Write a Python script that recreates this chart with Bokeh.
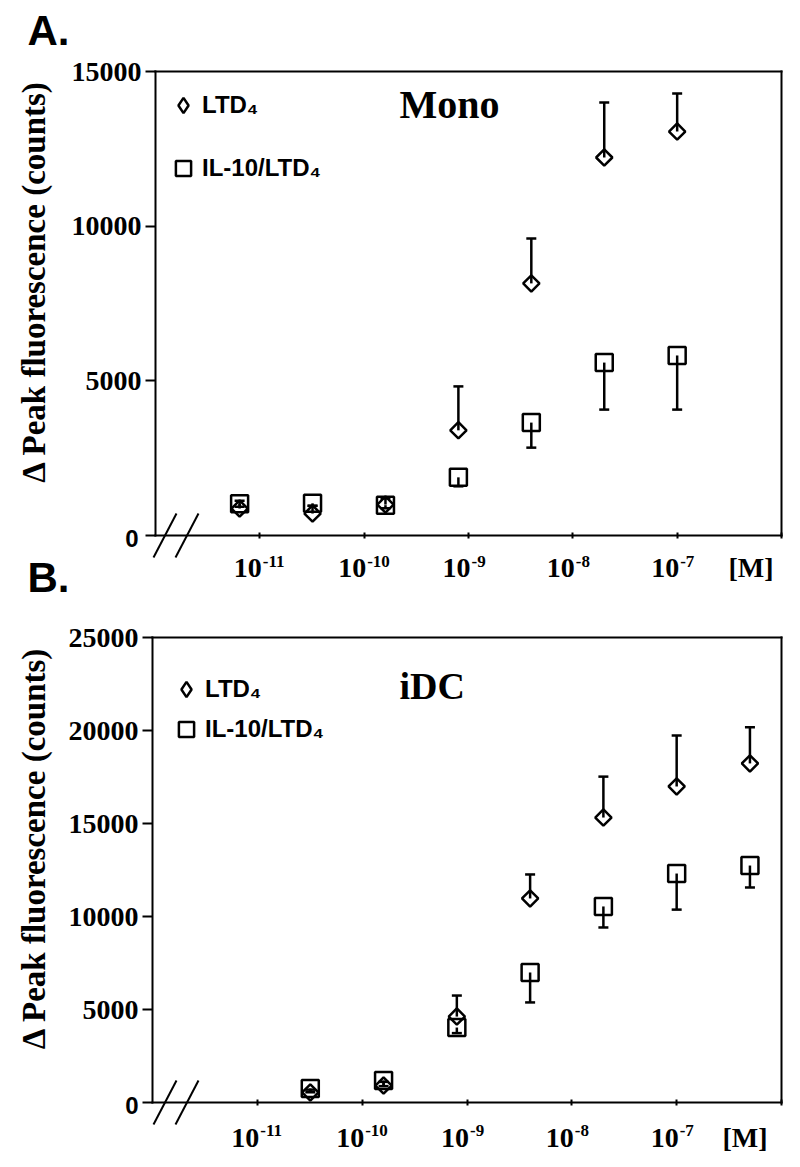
import numpy as np
from bokeh.plotting import figure
from bokeh.models import (Range1d, FixedTicker, Whisker, TeeHead, ColumnDataSource, Label,
                          Arrow, Legend, LegendItem, CustomJSTickFormatter, LogAxis, LinearAxis)
from bokeh.layouts import column
from bokeh.embed import file_html
from bokeh.resources import INLINE

# ---------------- data ----------------
# Panel A: monocytes (Mono)
conc_a = [6.4e-12, 3.2e-11, 1.6e-10, 8e-10, 4e-9, 2e-8, 1e-7]
ltd4_a = [870, 710, 1000, 3400, 8150, 12220, 13060]
ltd4_err_a = [250, 250, 200, 1420, 1450, 1780, 1230]
il10_a = [1030, 1040, 980, 1880, 3650, 5590, 5820]
il10_err_a = [100, 80, 100, 290, 810, 1520, 1750]

# Panel B: immature dendritic cells (iDC)
conc_b = [3.2e-11, 1.6e-10, 8e-10, 4e-9, 2e-8, 1e-7, 5e-7]
ltd4_b = [540, 910, 4620, 10970, 15320, 16990, 18230]
ltd4_err_b = [150, 200, 1130, 1290, 2200, 2740, 1940]
il10_b = [750, 1180, 4030, 6990, 10540, 12310, 12740]
il10_err_b = [200, 300, 300, 1610, 1130, 1940, 1180]

# axes
x_bounds = (1e-12, 1e-6)
x_ticks = [1e-11, 1e-10, 1e-9, 1e-8, 1e-7, 1e-6]
x_tick_base = ["10", "10", "10", "10", "10"]
x_tick_exp = ["-11", "-10", "-9", "-8", "-7"]
x_unit = "[M]"
y_ticks_a = [0, 5000, 10000, 15000]
y_ticks_b = [0, 5000, 10000, 15000, 20000, 25000]

series_names = ["LTD\u2084", "IL-10/LTD\u2084"]
panel_titles = ["Mono", "iDC"]
panel_letters = ["A.", "B."]
y_title = "\u0394 Peak fluorescence (counts)"

SERIF = "Liberation Serif"
SANS = "Liberation Sans"
W = 800


class Geo:
    """Maps canvas pixels of one figure to data, so that the plotting box sits where it should."""
    def __init__(self, L, R, T, B, H, y_end):
        self.L, self.R, self.T, self.B, self.H, self.y_end = L, R, T, B, H, y_end
        self.ppd = (R - L) / 6.0
        self.ppu = (B - T) / y_end

    def x(self, px):
        return 10 ** (-12 + (px - self.L) / self.ppd)

    def y(self, py):
        return (self.B - py) / self.ppu

    def x_range(self):
        return Range1d(self.x(0), self.x(W))

    def y_range(self):
        return Range1d(self.y(self.H), self.y(0))


def text(p, x, y, s, size, font=SERIF, align="left", angle=0.0, x_offset=0):
    p.add_layout(Label(x=x, y=y, text=s, text_align=align, text_baseline="middle", angle=angle,
                       x_offset=x_offset, text_font=font, text_font_style="bold",
                       text_font_size=size, text_color="black"))


def make_panel(g, conc, ltd, ltd_err, il, il_err, y_ticks, leg_loc, leg_spacing,
               base_mid, exp_mid, unit_right):
    p = figure(width=W, height=g.H, x_axis_type="log",
               x_range=g.x_range(), y_range=g.y_range(),
               output_backend="svg", toolbar_location=None,
               min_border_left=0, min_border_right=0, min_border_top=0, min_border_bottom=0)
    p.title.visible = False
    p.grid.visible = False
    p.outline_line_color = None
    p.background_fill_color = "white"
    p.border_fill_color = "white"

    # bottom axis (tick marks; labels drawn below as 10 + superscript)
    xa = p.xaxis[0]
    xa.fixed_location = 0
    xa.bounds = x_bounds
    xa.ticker = FixedTicker(ticks=x_ticks, minor_ticks=[])
    xa.formatter = CustomJSTickFormatter(code="return ''")
    xa.axis_line_width = 2
    xa.axis_line_cap = "square"
    xa.major_tick_line_width = 2
    xa.major_tick_in = 3
    xa.major_tick_out = 3
    xa.minor_tick_line_color = None

    # left axis
    ya = p.yaxis[0]
    ya.fixed_location = x_bounds[0]
    ya.bounds = (0, g.y_end)
    ya.ticker = FixedTicker(ticks=y_ticks, minor_ticks=[])
    ya.formatter = CustomJSTickFormatter(code="return tick == 0 ? '' : tick.toFixed(0)")
    ya.axis_line_width = 2
    ya.axis_line_cap = "square"
    ya.major_tick_line_width = 2
    ya.major_tick_in = 0
    ya.major_tick_out = 10
    ya.minor_tick_line_color = None
    ya.major_label_standoff = 4
    ya.major_label_text_font = SERIF
    ya.major_label_text_font_style = "bold"
    ya.major_label_text_font_size = "28px"
    ya.major_label_text_color = "black"

    # top and right edges of the box
    top = LogAxis(fixed_location=g.y_end, bounds=x_bounds, ticker=FixedTicker(ticks=[], minor_ticks=[]),
                  formatter=CustomJSTickFormatter(code="return ''"), axis_line_width=2,
                  axis_line_cap="square", major_tick_line_color=None, minor_tick_line_color=None)
    p.add_layout(top, "above")
    right = LinearAxis(fixed_location=x_bounds[1], bounds=(0, g.y_end),
                       ticker=FixedTicker(ticks=[], minor_ticks=[]),
                       formatter=CustomJSTickFormatter(code="return ''"), axis_line_width=2,
                       axis_line_cap="square", major_tick_line_color=None, minor_tick_line_color=None)
    p.add_layout(right, "right")

    src = ColumnDataSource(dict(
        x=conc, ltd=ltd, il=il,
        ltd_hi=[v + e for v, e in zip(ltd, ltd_err)],
        il_lo=[v - e for v, e in zip(il, il_err)],
    ))

    p.add_layout(Whisker(source=src, base="x", lower="ltd", upper="ltd_hi", dimension="height",
                         line_color="black", line_width=2.5, lower_head=None,
                         upper_head=TeeHead(size=10, line_width=2.5, line_color="black")))
    p.add_layout(Whisker(source=src, base="x", lower="il_lo", upper="il", dimension="height",
                         line_color="black", line_width=2.5, upper_head=None,
                         lower_head=TeeHead(size=10, line_width=2.5, line_color="black")))

    p.scatter("x", "ltd", source=src, marker="square", angle=np.pi / 4, size=11.5,
              fill_color=None, line_color="black", line_width=2.5)
    r_il = p.scatter("x", "il", source=src, marker="square", size=17,
                     fill_color=None, line_color="black", line_width=2.5)
    # legend key for the diamond series (legend keys ignore marker angle); draws no point
    r_key = p.scatter(x=[np.nan], y=[np.nan], marker="diamond", size=14,
                      fill_color=None, line_color="black", line_width=2.5)

    leg = Legend(items=[LegendItem(label=series_names[0], renderers=[r_key]),
                        LegendItem(label=series_names[1], renderers=[r_il])],
                 location=leg_loc, margin=0, padding=4, spacing=leg_spacing,
                 glyph_width=38, glyph_height=38, label_height=38, label_standoff=0,
                 border_line_color=None, background_fill_alpha=0,
                 label_text_font=SANS, label_text_font_style="bold",
                 label_text_font_size="24px", label_text_color="black")
    p.add_layout(leg)

    # x tick labels: "10" with a superscript exponent, and the unit
    for t, b, e in zip(x_ticks, x_tick_base, x_tick_exp):
        text(p, t, g.y(base_mid), b, "28px", align="right", x_offset=2)
        text(p, t, g.y(exp_mid), e, "17px", align="left", x_offset=3)
    text(p, g.x(unit_right), g.y(base_mid), x_unit, "28px", align="right")

    # sans-serif zero on the y axis, as in the original
    text(p, g.x(138), g.y(g.B + 3), "0", "24px", font=SANS, align="right")
    # y axis title
    text(p, g.x(33), g.y((g.T + g.B) / 2 - 22), y_title, "33px", align="center", angle=np.pi / 2)
    # axis break marks "//"
    for dx in (0, 22):
        p.add_layout(Arrow(start=None, end=None, line_width=2, line_color="black",
                           x_start=g.x(153 + dx), y_start=g.y(g.B + 22),
                           x_end=g.x(176 + dx), y_end=g.y(g.B - 22)))
    return p


gA = Geo(L=155, R=781, T=71, B=535, H=600, y_end=15000)
gB = Geo(L=152, R=781, T=37, B=502, H=560, y_end=25000)

# legend location: (left, bottom) of the legend box, measured from the frame's bottom-left
p1 = make_panel(gA, conc_a, ltd4_a, ltd4_err_a, il10_a, il10_err_a, y_ticks_a,
                leg_loc=(164, 600 - 187), leg_spacing=25,
                base_mid=567, exp_mid=561, unit_right=773)
p2 = make_panel(gB, conc_b, ltd4_b, ltd4_err_b, il10_b, il10_err_b, y_ticks_b,
                leg_loc=(167, 560 - 148), leg_spacing=2,
                base_mid=537, exp_mid=530, unit_right=767)

# panel titles
text(p1, gA.x(399), gA.y(104), panel_titles[0], "40px")
text(p2, gB.x(399), gB.y(85), panel_titles[1], "38px")

# panel letters (both in the top canvas)
for letter, mid in zip(panel_letters, (30, 577)):
    text(p1, gA.x(27), gA.y(mid), letter, "42px", font=SANS)

layout = column(p1, p2, spacing=0)
open("out.html", "w").write(file_html(layout, INLINE))
